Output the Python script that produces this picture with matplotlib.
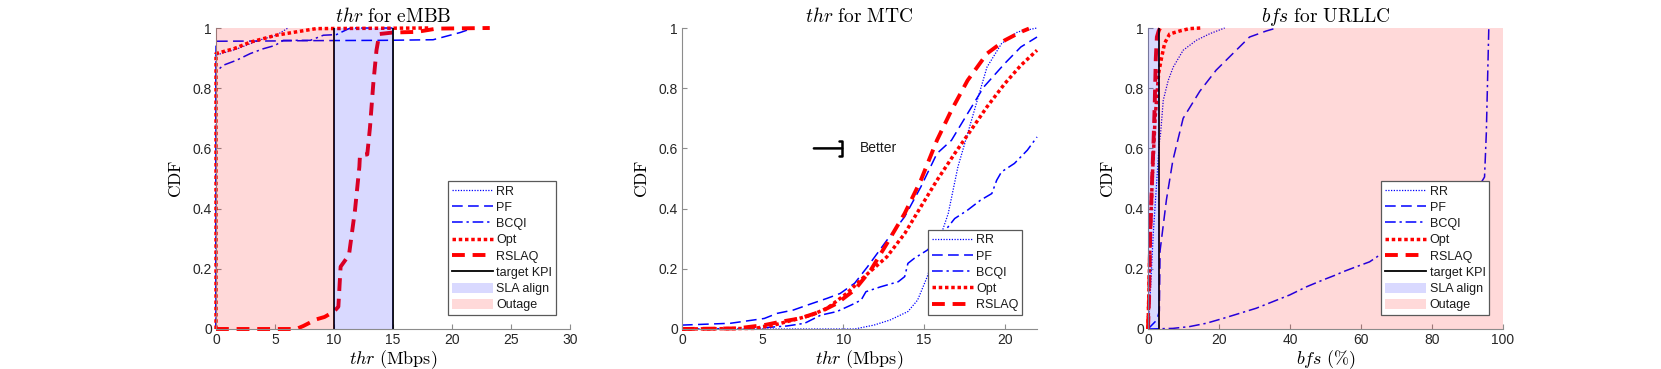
import matplotlib
matplotlib.use("Agg")
import matplotlib.pyplot as plt

plt.rcParams['font.family'] = ['Liberation Sans', 'DejaVu Sans']
plt.rcParams['mathtext.fontset'] = 'cm'

# ---------------- data ----------------
# Panel 1: thr for eMBB
e_rr_x = [0, 0, 1.75, 3.7, 5.1, 5.7, 6.1]
e_rr_y = [0, 0.91, 0.93, 0.96, 0.976, 0.99, 1.0]
e_pf_x = [0, 0, 5, 8, 14.2, 18.4, 20.7, 21.8]
e_pf_y = [0, 0.956, 0.957, 0.958, 0.959, 0.961, 0.985, 1.0]
e_bc_x = [0, 0, 0.6, 1.75, 2.9, 4.0, 5.0, 5.7, 8.0, 9.1, 10.2, 11.1, 11.4, 15]
e_bc_y = [0, 0.854, 0.876, 0.893, 0.915, 0.931, 0.942, 0.959, 0.959, 0.976, 0.978, 0.995, 1.0, 1.0]
e_opt_x = [0, 0, 1.5, 2.9, 5.1, 7.1, 8.5, 18.1]
e_opt_y = [0, 0.915, 0.931, 0.953, 0.976, 0.989, 0.998, 1.0]
e_rs_x = [0, 6.8, 7.4, 8.5, 9.2, 10.0, 10.37, 10.56, 11.27, 11.78, 12.15, 12.2, 12.82,
          13.05, 13.33, 13.6, 13.84, 15.0, 17.0, 18.7, 23.2]
e_rs_y = [0, 0, 0.01, 0.032, 0.04, 0.058, 0.074, 0.207, 0.246, 0.395, 0.539, 0.577, 0.58,
          0.67, 0.815, 0.926, 0.98, 0.985, 0.987, 0.998, 1.0]
e_kpi = [10, 15]
e_outage = (0, 10)
e_sla = (10, 15)

# Panel 2: thr for MTC
m_rr_x = [0, 10.7, 11.9, 12.9, 14.0, 14.6, 15.2, 15.8, 16.5, 17.1, 17.7, 18.3, 18.9, 19.8, 20.8, 22]
m_rr_y = [0, 0, 0.013, 0.03, 0.058, 0.096, 0.174, 0.273, 0.384, 0.539, 0.649, 0.76, 0.87, 0.948, 0.987, 1.0]
m_pf_x = [0, 3, 5.1, 5.9, 6.9, 7.8, 9, 9.8, 10.7, 11.5, 12.7, 13.8, 14.8, 15.8, 16.7, 17.7, 18.7, 20.0, 21.0, 22]
m_pf_y = [0.013, 0.019, 0.035, 0.052, 0.063, 0.08, 0.102, 0.118, 0.152, 0.207, 0.295, 0.373, 0.472,
          0.583, 0.627, 0.716, 0.804, 0.882, 0.937, 0.97]
m_bc_x = [0, 4.5, 6.5, 7.6, 8.6, 9.6, 10.5, 11.1, 11.4, 12.3, 13.4, 13.8, 14.0, 14.4, 15.2, 16.0,
          16.9, 17.7, 18.5, 19.2, 19.5, 19.8, 20.6, 21.4, 22]
m_bc_y = [0, 0.002, 0.01, 0.019, 0.046, 0.058, 0.08, 0.096, 0.124, 0.14, 0.157, 0.174, 0.218, 0.235,
          0.262, 0.306, 0.367, 0.395, 0.428, 0.45, 0.494, 0.522, 0.55, 0.594, 0.638]
m_opt_x = [0, 4.5, 5.7, 6.9, 8.0, 9.0, 10.2, 11.3, 12.7, 13.8, 14.8, 15.8, 16.9, 17.9, 18.9, 20.0, 21.0, 22]
m_opt_y = [0, 0.002, 0.013, 0.03, 0.046, 0.069, 0.118, 0.174, 0.24, 0.317, 0.406, 0.494, 0.583,
           0.66, 0.738, 0.815, 0.876, 0.926]
m_rs_x = [0, 3.4, 5.1, 6.1, 7.3, 8.6, 9.6, 10.7, 11.7, 12.7, 13.8, 14.8, 15.8, 16.7, 17.7, 18.9, 20.0, 21.0, 21.5]
m_rs_y = [0, 0.002, 0.013, 0.024, 0.035, 0.058, 0.085, 0.13, 0.196, 0.284, 0.384, 0.494, 0.627,
          0.727, 0.826, 0.915, 0.959, 0.987, 0.998]

# Panel 3: bfs for URLLC
u_rr_x = [0, 0.56, 1.5, 2.4, 3.2, 3.55, 4.3, 5.7, 7.1, 9.9, 13.6, 17.4, 21.6]
u_rr_y = [0, 0.1, 0.32, 0.48, 0.62, 0.65, 0.76, 0.826, 0.87, 0.926, 0.959, 0.981, 1.0]
u_pf_x = [0, 2.5, 3.2, 3.4, 5.2, 7.0, 9.9, 14.6, 19.2, 23.9, 28.6, 33.3, 36.2]
u_pf_y = [0, 0.03, 0.06, 0.26, 0.43, 0.56, 0.70, 0.79, 0.86, 0.915, 0.97, 0.99, 1.0]
u_bc_x = [0, 7, 11.7, 16.4, 21.1, 25.8, 30.5, 35.2, 39.9, 44.6, 49.3, 53, 54.9, 58.7, 62.4, 65.3,
          68, 75, 85, 92, 94.8, 95.3, 96]
u_bc_y = [0, 0.002, 0.008, 0.019, 0.035, 0.052, 0.069, 0.091, 0.113, 0.14, 0.163, 0.18, 0.19, 0.207,
          0.223, 0.246, 0.26, 0.31, 0.38, 0.45, 0.505, 0.65, 1.0]
u_opt_x = [0, 0.2, 0.6, 1.2, 2.0, 3.0, 3.8, 4.7, 6.1, 8.9, 11.7, 15]
u_opt_y = [0, 0.1, 0.3, 0.5, 0.7, 0.85, 0.9, 0.95, 0.98, 0.99, 0.998, 1.0]
u_rs_x = [0, 0.3, 0.6, 1.0, 1.5, 1.9, 2.2, 2.5, 3.0, 3.4]
u_rs_y = [0, 0.1, 0.3, 0.45, 0.6, 0.75, 0.9, 0.97, 0.99, 1.0]
u_kpi = [3]
u_sla = (0, 3)
u_outage = (3, 100)

labels = ['RR', 'PF', 'BCQI', 'Opt', 'RSLAQ']
yticks = [0, 0.2, 0.4, 0.6, 0.8, 1]
yticklabels = ['0', '0.2', '0.4', '0.6', '0.8', '1']

# ---------------- styles ----------------
styles = [
    dict(color='blue', lw=0.9, ls=(0, (1, 1.2))),
    dict(color='blue', lw=1.1, ls=(0, (7, 3.5))),
    dict(color='blue', lw=1.1, ls=(0, (7, 2.5, 1.5, 2.5))),
    dict(color='red', lw=2.5, ls=(0, (1, 0.8))),
    dict(color='red', lw=2.8, ls=(0, (3.3, 2.0))),
]

fig = plt.figure(figsize=(16.61, 3.69), dpi=100)
positions = [
    [216/1661, 1-329/369, 354/1661, 301/369],
    [682/1661, 1-329/369, 355/1661, 301/369],
    [1148/1661, 1-329/369, 355/1661, 301/369],
]
axes = [fig.add_axes(p) for p in positions]

def style_axes(ax):
    for s in ['top', 'right']:
        ax.spines[s].set_visible(False)
    for s in ['left', 'bottom']:
        ax.spines[s].set_color('0.55')
        ax.spines[s].set_linewidth(0.8)
    ax.tick_params(direction='in', length=3.5, width=0.8, color='0.55',
                   labelcolor='0.15', labelsize=10, pad=3)
    ax.set_ylim(0, 1)
    ax.set_yticks(yticks)
    ax.set_yticklabels(yticklabels)
    ax.set_ylabel(r'$\mathrm{CDF}$', fontsize=12.5, labelpad=6)

def legend(ax, handles, anchor):
    lg = ax.legend(handles=handles, loc='lower right', bbox_to_anchor=anchor,
                   borderaxespad=0, fontsize=9, frameon=True, fancybox=False,
                   framealpha=1.0, facecolor='white',
                   handlelength=3.3, handletextpad=0.25, labelspacing=0.3,
                   borderpad=0.3, handleheight=0.9)
    lg.get_frame().set_edgecolor('0.35')
    lg.get_frame().set_linewidth(0.9)
    for t in lg.get_texts():
        t.set_color('0.1')
    lg.set_zorder(10)
    return lg

def draw_lines(ax, data):
    hs = []
    for (x, y), st, lb in zip(data, styles, labels):
        h, = ax.plot(x, y, label=lb, zorder=2, clip_on=False, **st)
        hs.append(h)
    return hs

# ---- Panel 1
ax = axes[0]
hs = draw_lines(ax, [(e_rr_x, e_rr_y), (e_pf_x, e_pf_y), (e_bc_x, e_bc_y),
                     (e_opt_x, e_opt_y), (e_rs_x, e_rs_y)])
hk = None
for i, k in enumerate(e_kpi):
    l = ax.axvline(k, color='black', lw=1.3, zorder=2.5)
    if i == 0:
        hk = l
hs_ = ax.axvspan(*e_sla, color='blue', alpha=0.15, lw=0, zorder=3)
ho = ax.axvspan(*e_outage, color='red', alpha=0.15, lw=0, zorder=3)
hk.set_label('target KPI'); hs_.set_label('SLA align'); ho.set_label('Outage')
ax.set_xlim(0, 30)
ax.set_xticks([0, 5, 10, 15, 20, 25, 30])
style_axes(ax)
ax.set_xlabel(r'$thr\ \mathrm{(Mbps)}$', fontsize=13, labelpad=1)
ax.set_title(r'$thr\ \mathrm{for\ eMBB}$', fontsize=14, pad=4)
legend(ax, hs + [hk, hs_, ho], (0.960, 0.0465))

# ---- Panel 2
ax = axes[1]
hs = draw_lines(ax, [(m_rr_x, m_rr_y), (m_pf_x, m_pf_y), (m_bc_x, m_bc_y),
                     (m_opt_x, m_opt_y), (m_rs_x, m_rs_y)])
ax.set_xlim(0, 22)
ax.set_xticks([0, 5, 10, 15, 20])
style_axes(ax)
ax.set_xlabel(r'$thr\ \mathrm{(Mbps)}$', fontsize=13, labelpad=1)
ax.set_title(r'$thr\ \mathrm{for\ MTC}$', fontsize=14, pad=4)
ax.annotate('', xy=(10.1, 0.6), xytext=(8.0, 0.6),
            arrowprops=dict(arrowstyle='-[, widthB=0.55, lengthB=-0.25', lw=1.8, color='black'))
ax.text(11.0, 0.6, 'Better', fontsize=10, color='0.1', va='center', ha='left')
legend(ax, hs, (0.958, 0.0465))

# ---- Panel 3
ax = axes[2]
hs = draw_lines(ax, [(u_rr_x, u_rr_y), (u_pf_x, u_pf_y), (u_bc_x, u_bc_y),
                     (u_opt_x, u_opt_y), (u_rs_x, u_rs_y)])
hk = ax.axvline(u_kpi[0], color='black', lw=1.3, zorder=2.5, label='target KPI')
hs_ = ax.axvspan(*u_sla, color='blue', alpha=0.15, lw=0, zorder=3, label='SLA align')
ho = ax.axvspan(*u_outage, color='red', alpha=0.15, lw=0, zorder=3, label='Outage')
ax.set_xlim(0, 100)
ax.set_xticks([0, 20, 40, 60, 80, 100])
style_axes(ax)
ax.set_xlabel(r'$bfs\ \mathrm{(\%)}$', fontsize=13, labelpad=1)
ax.set_title(r'$bfs\ \mathrm{for\ URLLC}$', fontsize=14, pad=4)
legend(ax, hs + [hk, hs_, ho], (0.961, 0.0465))

fig.savefig('out.png', dpi=100)
